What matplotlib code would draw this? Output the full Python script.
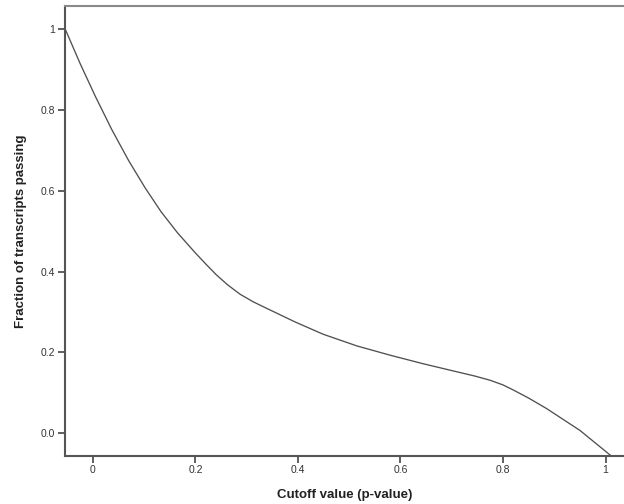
import matplotlib
matplotlib.use("Agg")
import matplotlib.pyplot as plt

# Curve points
cutoff = [-0.054, -0.025, 0.005, 0.037, 0.070, 0.102, 0.133, 0.165, 0.200,
          0.220, 0.240, 0.262, 0.287, 0.313, 0.339, 0.395, 0.449, 0.515,
          0.580, 0.644, 0.710, 0.745, 0.775, 0.800, 0.820, 0.850, 0.885,
          0.950, 1.009]
fraction = [1.000, 0.915, 0.833, 0.751, 0.674, 0.607, 0.548, 0.496, 0.446,
            0.419, 0.393, 0.368, 0.344, 0.325, 0.309, 0.275, 0.245, 0.216,
            0.193, 0.172, 0.152, 0.1415, 0.131, 0.1195, 0.107, 0.087, 0.061,
            0.007, -0.054]

xticks = [0, 0.2, 0.4, 0.6, 0.8, 1]
xticklabels = ["0", "0.2", "0.4", "0.6", "0.8", "1"]
yticks = [0.0, 0.2, 0.4, 0.6, 0.8, 1]
yticklabels = ["0.0", "0.2", "0.4", "0.6", "0.8", "1"]

plt.rcParams['font.family'] = ['Liberation Sans', 'DejaVu Sans']

fig = plt.figure(figsize=(6.24, 5.04), dpi=100)
ax = fig.add_axes([0.104, 0.096, 0.896, 0.892])

ax.plot(cutoff, fraction, color="#505050", lw=0.95,
        solid_joinstyle="round", antialiased=True)

ax.set_xlim(-0.0546, 1.036)
ax.set_ylim(-0.0554, 1.057)

ax.set_xticks(xticks)
ax.set_xticklabels(xticklabels)
ax.set_yticks(yticks)
ax.set_yticklabels(yticklabels)
ax.tick_params(axis="both", direction="out", length=5, width=1.2,
               color="#444444", labelsize=7.5, labelcolor="#333333", pad=2)

for s in ["left", "bottom"]:
    ax.spines[s].set_color("#555555")
    ax.spines[s].set_linewidth(1.5)
ax.spines["top"].set_color("#8a8a8a")
ax.spines["top"].set_linewidth(1.5)
ax.spines["right"].set_visible(False)

ax.set_xlabel("Cutoff value (p-value)", fontsize=9.5, fontweight="bold",
              color="#222222", labelpad=10)
ax.set_ylabel("Fraction of transcripts passing", fontsize=9.5,
              fontweight="bold", color="#222222", labelpad=10)

fig.savefig("out.png", dpi=100)
